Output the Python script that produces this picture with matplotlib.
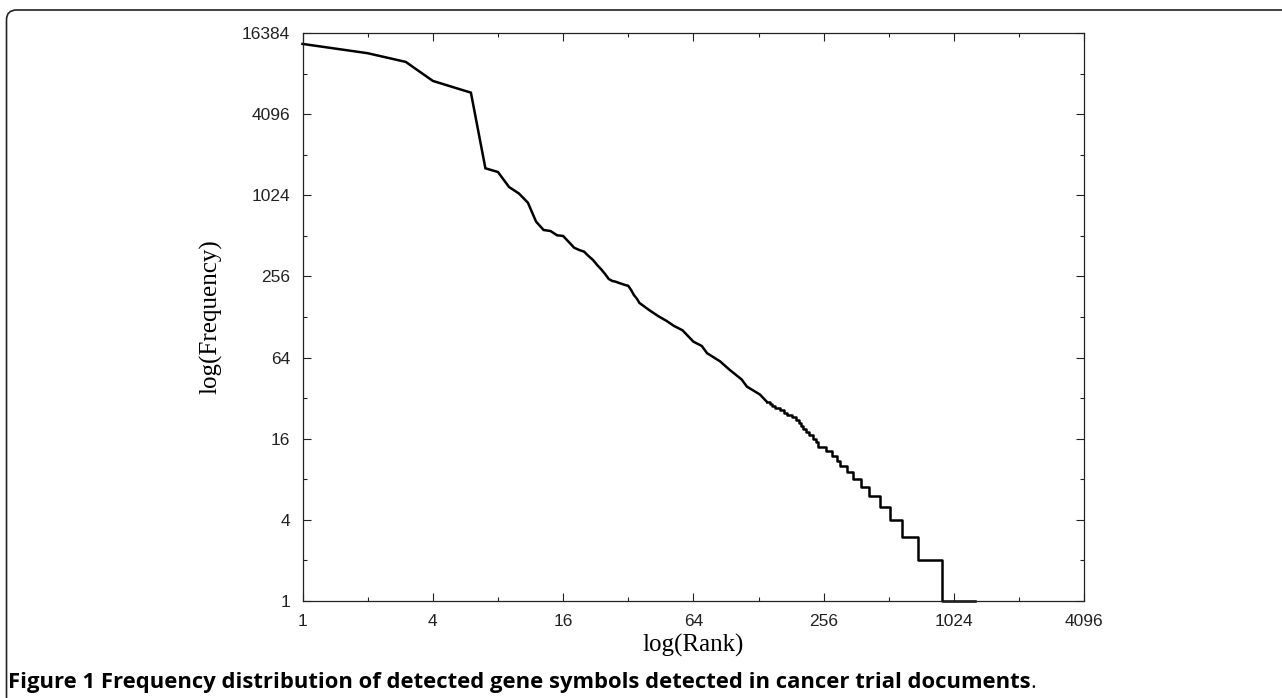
import matplotlib
matplotlib.use("Agg")
import matplotlib.pyplot as plt
from matplotlib.ticker import FixedLocator, FixedFormatter, NullFormatter
from matplotlib.patches import FancyBboxPatch

# ---- data ----
head_rank = [1, 2, 3, 4, 5, 6, 7, 8, 9, 10, 11, 12, 13, 14, 15, 16, 17, 18, 19, 20,
             21, 22, 23, 24, 25, 26, 27, 28, 29, 30, 31, 32, 33, 34, 35, 36, 38, 40,
             44, 48, 52, 57, 64, 70, 74, 85, 94, 107, 113, 130, 140]
head_freq = [13600, 11600, 10000, 7230, 6470, 5915, 1624, 1524, 1180, 1056, 903, 653,
             566, 556, 517, 511, 461, 418, 402, 391, 362, 339, 311, 289, 267, 245, 237,
             234, 229, 225, 221, 218, 203, 186, 176, 163, 153, 144, 130, 120, 110, 102,
             84, 78, 69, 60, 52, 44, 39, 34, 30]

# tail: integer frequency levels and the first rank at each level (last = end rank)
tail_rank = [140, 144, 148, 153, 160, 167, 174, 183, 191, 197, 201, 205, 211, 220,
             229, 236, 242, 262, 281, 294, 305, 327, 351, 379, 413, 465, 518, 592,
             700, 898, 1280]
tail_freq = [30, 29, 28, 27, 26, 25, 24, 23, 22, 21, 20, 19, 18, 17,
             16, 15, 14, 13, 12, 11, 10, 9, 8, 7, 6, 5, 4, 3, 2, 1, 1]

x_major = [1, 4, 16, 64, 256, 1024, 4096]
x_minor = [2, 8, 32, 128, 512, 2048]
y_major = [1, 4, 16, 64, 256, 1024, 4096, 16384]
y_minor = [2, 8, 32, 128, 512, 2048, 8192]

caption_bold = "Figure 1 Frequency distribution of detected gene symbols detected in cancer trial documents"

W, H = 1282, 698
fig = plt.figure(figsize=(W / 100, H / 100), dpi=100)
ax = fig.add_axes([302.5 / W, 1 - 601 / H, (1084.3 - 302.5) / W, (601 - 33) / H])

ax.plot(head_rank, head_freq, color="black", lw=1.8, solid_joinstyle="miter", clip_on=False)
ax.plot(tail_rank, tail_freq, color="black", lw=1.8, drawstyle="steps-post", clip_on=False)

ax.set_xscale("log", base=2)
ax.set_yscale("log", base=2)
ax.set_xlim(1, 4096)
ax.set_ylim(1, 16384)

ax.xaxis.set_major_locator(FixedLocator(x_major))
ax.xaxis.set_major_formatter(FixedFormatter([str(v) for v in x_major]))
ax.xaxis.set_minor_locator(FixedLocator(x_minor))
ax.xaxis.set_minor_formatter(NullFormatter())
ax.yaxis.set_major_locator(FixedLocator(y_major))
ax.yaxis.set_major_formatter(FixedFormatter([str(v) for v in y_major]))
ax.yaxis.set_minor_locator(FixedLocator(y_minor))
ax.yaxis.set_minor_formatter(NullFormatter())

ax.tick_params(which="both", direction="in", top=True, right=True, width=0.8,
               colors="#222222")
ax.tick_params(which="major", length=5.8, pad=9, labelsize=12.5)
ax.tick_params(which="minor", length=2.9)
for lab in ax.get_xticklabels() + ax.get_yticklabels():
    lab.set_family("Liberation Sans")
for s in ax.spines.values():
    s.set_linewidth(0.9)
    s.set_color("#222222")

ax.set_xlabel("log(Rank)", family="Liberation Serif", fontsize=18, labelpad=4)
ax.set_ylabel("log(Frequency)", family="Liberation Serif", fontsize=18, labelpad=14)

# caption
cap = fig.text(8 / W, 1 - 688 / H, caption_bold, family="Open Sans", weight="bold",
               fontsize=15.8, ha="left", va="baseline", color="black")
fig.canvas.draw()
bb = cap.get_window_extent()
fig.text(bb.x1 / W, 1 - 688 / H, ".", family="Open Sans", fontsize=15.8,
         ha="left", va="baseline", color="black")

# rounded frame
frame = FancyBboxPatch((0.065, -0.5), 14.0, 6.88 + 0.5,
                       boxstyle="round,pad=0,rounding_size=0.1",
                       transform=fig.dpi_scale_trans, fill=False,
                       edgecolor="#222222", linewidth=1.2)
fig.patches.append(frame)

fig.savefig("out.png", dpi=100)
